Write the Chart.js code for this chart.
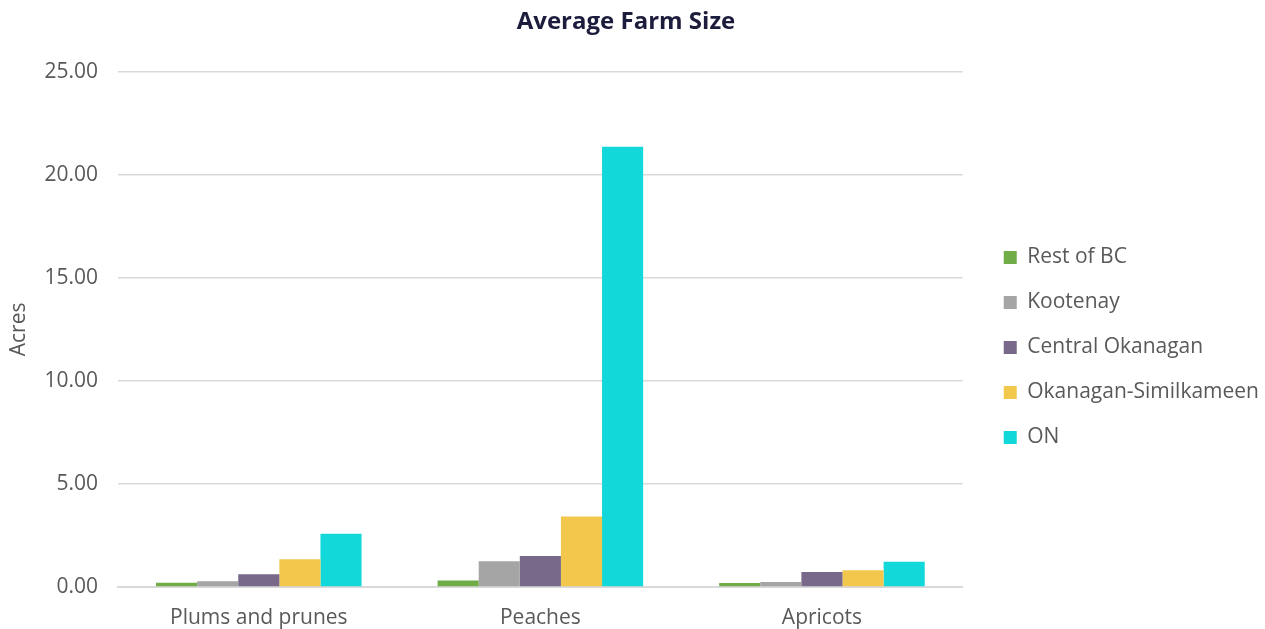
<!DOCTYPE html>
<html>
<head>
<meta charset="utf-8">
<script src="https://cdn.jsdelivr.net/npm/chart.js@4"></script>
<style>
  html, body { margin: 0; padding: 0; background: #fff; }
  #wrap { width: 1265px; height: 629px; }
</style>
</head>
<body>
<div id="wrap"><canvas id="farm"></canvas></div>
<script>
const crops = ['Plums and prunes', 'Peaches', 'Apricots'];

// average acres per farm, one array per region
const restOfBC = [0.21, 0.31, 0.19];
const kootenay = [0.28, 1.25, 0.24];
const centralOkanagan = [0.62, 1.51, 0.73];
const okanaganSimilkameen = [1.35, 3.42, 0.81];
const ontario = [2.58, 21.36, 1.22];

const yTicks = [0, 5, 10, 15, 20, 25];

const regions = [
  { label: 'Rest of BC', data: restOfBC, color: '#70ad47' },
  { label: 'Kootenay', data: kootenay, color: '#a5a5a5' },
  { label: 'Central Okanagan', data: centralOkanagan, color: '#786889' },
  { label: 'Okanagan-Similkameen', data: okanaganSimilkameen, color: '#f1c84c' },
  { label: 'ON', data: ontario, color: '#12d8da' }
];

const fontFamily = "'Open Sans', sans-serif";
const grey = '#595959';

// nudge the legend block a bit away from the plot and down
const legendNudge = {
  id: 'legendNudge',
  afterLayout(chart) {
    const lg = chart.legend;
    if (!lg) return;
    lg.left += 17;
    lg.right += 17;
    lg.top += 33;
    lg.bottom += 33;
  }
};

new Chart(document.getElementById('farm'), {
  type: 'bar',
  data: {
    labels: crops,
    datasets: regions.map(r => ({
      label: r.label,
      data: r.data,
      backgroundColor: r.color,
      borderWidth: 0,
      categoryPercentage: 0.73,
      barPercentage: 1
    }))
  },
  options: {
    responsive: true,
    maintainAspectRatio: false,
    animation: false,
    layout: { padding: { top: 0, left: 0, bottom: 0, right: 13 } },
    scales: {
      x: {
        grid: { display: false, drawTicks: false },
        border: { color: '#d9d9d9', width: 2 },
        ticks: { color: grey, font: { family: fontFamily, size: 21 }, padding: 18 },
        afterFit: s => { s.height = 42; }
      },
      y: {
        min: 0,
        max: 25,
        afterBuildTicks: axis => { axis.ticks = yTicks.map(v => ({ value: v })); },
        grid: { color: '#d9d9d9', lineWidth: 1.5, drawTicks: false },
        border: { display: false },
        ticks: {
          color: grey,
          font: { family: fontFamily, size: 21 },
          padding: 20,
          callback: v => Number(v).toFixed(2)
        },
        title: {
          display: true,
          text: 'Acres',
          color: grey,
          font: { family: fontFamily, size: 21 },
          padding: { top: 6, bottom: 0 }
        },
        afterFit: s => { s.width = 118; }
      }
    },
    plugins: {
      title: {
        display: true,
        text: 'Average Farm Size',
        color: '#1c1c3c',
        font: { family: fontFamily, size: 24, weight: 'bold' },
        padding: { top: 8, bottom: 35 }
      },
      legend: {
        position: 'right',
        labels: {
          color: grey,
          font: { family: fontFamily, size: 21 },
          boxWidth: 13,
          boxHeight: 13,
          padding: 24
        }
      },
      tooltip: { enabled: false }
    }
  },
  plugins: [legendNudge]
});
</script>
</body>
</html>
